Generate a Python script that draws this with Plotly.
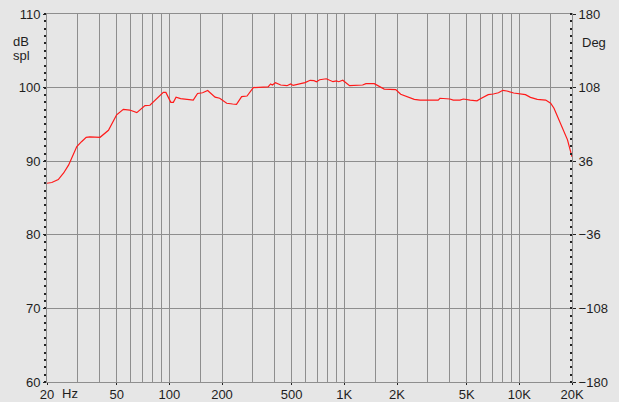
import math
import plotly.graph_objects as go

# ---- data ----
freq_hz = [20, 21.3, 23.2, 24.9, 26.6, 28.2, 29.6, 31.5, 33.5, 35.1, 40.2, 44.9, 50, 54.6,
           59.4, 65.2, 72.6, 77.5, 84.7, 92.4, 95.6, 102, 105.4, 109.3, 116, 137, 145, 155,
           165.6, 182.6, 194, 212.7, 230, 242, 259, 278, 302, 367, 379, 388, 404, 433, 470,
           494, 510, 534, 558, 596, 638, 671, 693, 723, 789, 862, 900, 930, 980, 1071, 1272,
           1329, 1483, 1690, 1967, 2100, 2510, 2706, 3440, 3520, 4010, 4190, 4580, 4790,
           5240, 5730, 5960, 6640, 7100, 7600, 8050, 8490, 9290, 10150, 10840, 11580,
           12660, 14150, 15100, 15780, 17250, 18850, 20000]
spl_db = [87.0, 87.1, 87.5, 88.4, 89.5, 90.8, 92.0, 92.65, 93.25, 93.3, 93.25, 94.2, 96.3, 97.05,
          96.95, 96.6, 97.55, 97.6, 98.55, 99.35, 99.35, 98.0, 98.0, 98.7, 98.5, 98.3, 99.2, 99.3,
          99.6, 98.7, 98.55, 97.87, 97.77, 97.73, 98.77, 98.86, 100.0, 100.1, 100.5, 100.35, 100.67,
          100.35, 100.26, 100.5, 100.3, 100.4, 100.58, 100.67, 100.99, 100.94, 100.8, 101.07, 101.2,
          100.8, 100.9, 100.8, 101.0, 100.26, 100.35, 100.53, 100.53, 99.8, 99.72, 99.09, 98.4,
          98.3, 98.3, 98.55, 98.45, 98.3, 98.3, 98.45, 98.3, 98.2, 98.45, 99.04, 99.13, 99.3,
          99.63, 99.54, 99.27, 99.13, 99.04, 98.68, 98.4, 98.3, 97.87, 97.19, 95.15, 92.9, 90.6]

x_tickvals = [20, 50, 100, 200, 500, 1000, 2000, 5000, 10000, 20000]
x_ticktext = ["20", "50", "100", "200", "500", "1K", "2K", "5K", "10K", "20K"]
x_minor_grid = [30, 40, 60, 70, 80, 90, 150, 300, 400, 600, 700, 800, 900, 1500,
                3000, 4000, 6000, 7000, 8000, 9000, 15000]
y_left_ticks = [60, 70, 80, 90, 100, 110]
y_right_ticks = [-180, -108, -36, 36, 108, 180]

BG = "#e6e6e6"
GRID = "#8e8e8e"
TXT = "#1e1e1e"
FONT = "Liberation Sans, Arial, sans-serif"
FS = 13

fig = go.Figure()
fig.add_trace(go.Scatter(x=freq_hz, y=spl_db, mode="lines",
                         line=dict(color="#ff1a1a", width=1.2),
                         showlegend=False, hoverinfo="skip"))
# phantom trace so the phase axis is drawn (no visible points)
fig.add_trace(go.Scatter(x=freq_hz, y=[None] * len(freq_hz), yaxis="y2",
                         mode="lines", showlegend=False, hoverinfo="skip"))

fig.update_layout(
    width=619, height=402,
    margin=dict(l=47, r=47, t=14, b=20, autoexpand=False),
    paper_bgcolor=BG, plot_bgcolor=BG,
    font=dict(family=FONT, size=FS, color=TXT),
    xaxis=dict(type="log", range=[math.log10(20), math.log10(20000)],
               tickmode="array", tickvals=x_tickvals, ticktext=x_ticktext,
               showgrid=True, gridcolor=GRID, gridwidth=1, automargin=False,
               showline=True, linecolor=GRID, linewidth=1, mirror=True,
               ticks="outside", ticklen=2, tickcolor="#222", tickwidth=1,
               ticklabelstandoff=-2,
               tickfont=dict(size=FS, color=TXT), zeroline=False,
               minor=dict(tickmode="array", tickvals=x_minor_grid, showgrid=True,
                          gridcolor=GRID, gridwidth=1, ticks="")),
    yaxis=dict(range=[60, 110], tickmode="array", tickvals=y_left_ticks,
               showgrid=True, gridcolor=GRID, gridwidth=1, automargin=False,
               showline=True, linecolor=GRID, linewidth=1,
               ticks="outside", ticklen=3, tickcolor="#222", tickwidth=1,
               tickfont=dict(size=FS, color=TXT), zeroline=False,
               minor=dict(dtick=1, tick0=60, ticks="outside", ticklen=2,
                          tickcolor="#222", tickwidth=1.5, showgrid=False)),
    yaxis2=dict(overlaying="y", side="right", range=[-180, 180],
                tickmode="array", tickvals=y_right_ticks, automargin=False,
                showgrid=False, showline=True, linecolor=GRID, linewidth=1,
                ticks="outside", ticklen=3, tickcolor="#222", tickwidth=1,
                tickfont=dict(size=FS, color=TXT), zeroline=False,
                minor=dict(dtick=7.2, tick0=-180, ticks="inside", ticklen=2,
                           tickcolor="#222", tickwidth=1.5, showgrid=False)),
    annotations=[
        dict(text="dB", x=(21 - 47) / 525, y=(382 - 41) / 368, xref="paper", yref="paper",
             showarrow=False, xanchor="center", yanchor="middle", font=dict(size=FS, color=TXT)),
        dict(text="spl", x=(21 - 47) / 525, y=(382 - 55) / 368, xref="paper", yref="paper",
             showarrow=False, xanchor="center", yanchor="middle", font=dict(size=FS, color=TXT)),
        dict(text="Deg", x=(594 - 47) / 525, y=(382 - 42) / 368, xref="paper", yref="paper",
             showarrow=False, xanchor="center", yanchor="middle", font=dict(size=FS, color=TXT)),
        dict(text="Hz", x=(70 - 47) / 525, y=(382 - 393) / 368, xref="paper", yref="paper",
             showarrow=False, xanchor="center", yanchor="middle", font=dict(size=FS, color=TXT)),
    ],
)

fig.write_html("out.html", config={"displayModeBar": False},
               post_script="document.body.style.margin='0';document.body.style.background='%s';" % BG)
